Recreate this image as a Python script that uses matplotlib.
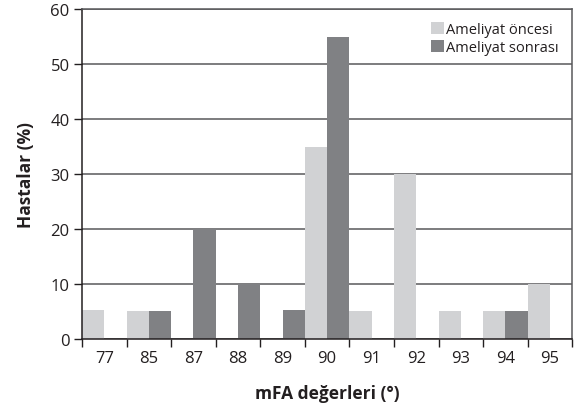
import numpy as np
import matplotlib
matplotlib.use("Agg")
import matplotlib.pyplot as plt

plt.rcParams['font.family'] = ['Open Sans', 'DejaVu Sans']

# --[data]---------------------------------------------------------------------
categories = ['77', '85', '87', '88', '89', '90', '91', '92', '93', '94', '95']
oncesi = [5.3, 5.0, 0, 0, 0, 35, 5.0, 30, 5.0, 5.0, 10]
sonrasi = [0, 5.0, 20, 10, 5.3, 55, 0, 0, 0, 5.0, 0]

light = '#d1d2d4'
dark = '#808184'
grid_c = '#58595b'

# --[plot]---------------------------------------------------------------------
fig = plt.figure(figsize=(5.78, 4.06), dpi=100)
ax = fig.add_axes([0.142, 0.163, 0.848, 0.812])

x = np.arange(len(categories))
ax.bar(x, oncesi, width=0.5, align='edge', color=light, label='Ameliyat öncesi', zorder=2)
ax.bar(x + 0.5, sonrasi, width=0.5, align='edge', color=dark, label='Ameliyat sonrası', zorder=2)

ax.set_xlim(0, len(categories))
ax.set_ylim(0, 60)
ax.set_yticks(range(0, 61, 10))
ax.yaxis.grid(True, color=grid_c, linewidth=1.1, zorder=1)
ax.set_axisbelow(True)

ax.set_xticks(np.arange(len(categories) + 1))
ax.set_xticklabels([])
ax.set_xticks(x + 0.5, minor=True)
ax.set_xticklabels(categories, minor=True)
ax.tick_params(axis='x', which='minor', length=0, pad=8, labelsize=12, labelcolor='#231f20')
ax.tick_params(axis='x', which='major', length=6, width=1, color='#231f20')
ax.tick_params(axis='y', length=6, width=1, color='#231f20', labelsize=12, labelcolor='#231f20', pad=3)

for s in ['left', 'bottom']:
    ax.spines[s].set_color('#231f20')
    ax.spines[s].set_linewidth(1.1)
for s in ['top', 'right']:
    ax.spines[s].set_color(grid_c)
    ax.spines[s].set_linewidth(1.1)

ax.set_ylabel('Hastalar (%)', fontsize=12.5, fontweight='bold', color='#231f20', labelpad=11)
ax.set_xlabel('mFA değerleri (°)', fontsize=12.5, fontweight='bold', color='#231f20', labelpad=13)

leg = ax.legend(loc='upper right', frameon=False, fontsize=10.5, handlelength=0.9,
                handleheight=0.9, handletextpad=0.15, labelspacing=0.15,
                borderaxespad=0.6, borderpad=0.3)
for t in leg.get_texts():
    t.set_color('#231f20')

plt.savefig('out.png', dpi=100)
